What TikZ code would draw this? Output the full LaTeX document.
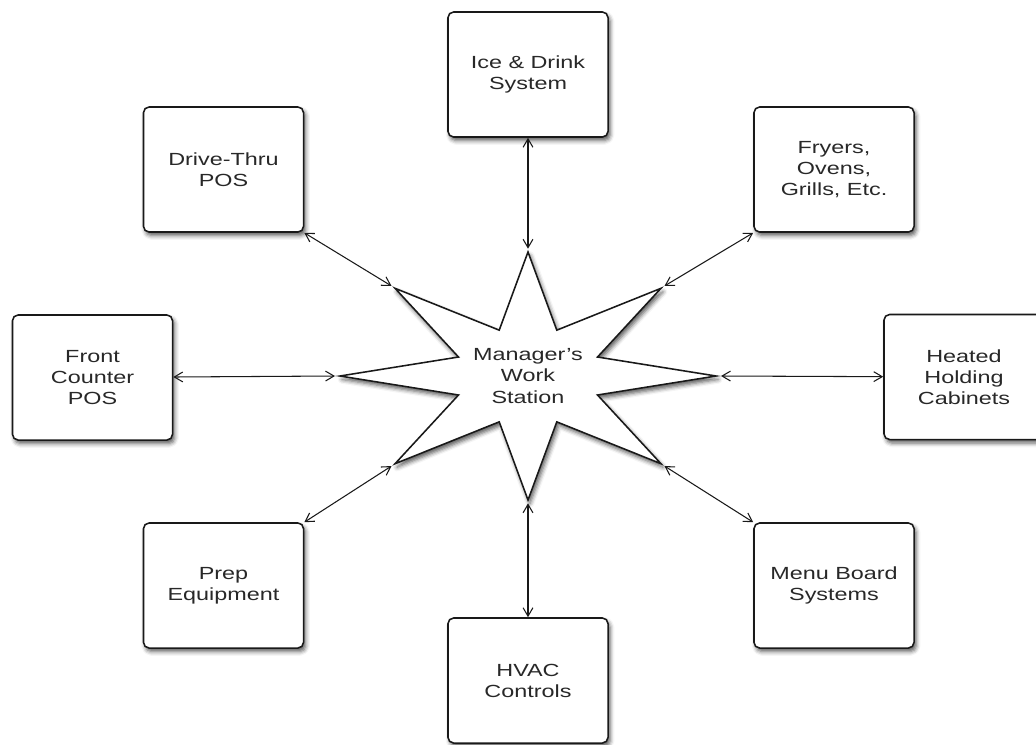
\documentclass[tikz,border=0pt]{standalone}
\usepackage{fontspec}
\setmainfont{Liberation Sans}[FakeStretch=1.33]
\usetikzlibrary{arrows.meta,shapes.geometric,shadows.blur}
\definecolor{inkline}{RGB}{25,25,25}
\definecolor{inktext}{RGB}{40,40,40}

\begin{document}
\begin{tikzpicture}[x=0.025cm,y=-0.025cm,
  unit/.style={rectangle,rounded corners=4pt,draw=inkline,line width=1.1pt,fill=white,
    text=inktext,font=\fontsize{12.5}{15}\selectfont,align=center,
    minimum width=4cm,minimum height=3.125cm,
    blur shadow={shadow xshift=1.5pt,shadow yshift=-2.5pt,shadow blur radius=3pt,shadow opacity=65}},
  link/.style={{Straight Barb[length=6pt,width=7pt]}-{Straight Barb[length=6pt,width=7pt]},
    line width=0.75pt,draw=inkline}]
\useasboundingbox (0,0) rectangle (1036,744);

% the work station in the middle
\node[star,star points=8,star point ratio=2.5,draw=inkline,line width=1.1pt,fill=white,
  minimum size=6.2cm,inner sep=0pt,xscale=1.516,transform shape,
  blur shadow={shadow xshift=1.5pt,shadow yshift=-2.5pt,shadow blur radius=3pt,shadow opacity=65}]
  (hub) at (528,376) {};
\node[text=inktext,font=\fontsize{12.5}{15}\selectfont,align=center] (hublabel) at (hub.center)
  {Manager's\\Work\\Station};

% equipment round it
\node[unit] (ice)    at (528,74.5)   {Ice \& Drink\\System};
\node[unit] (drive)  at (223.5,169.5) {Drive-Thru\\POS};
\node[unit] (fryers) at (834,169.5)  {Fryers,\\Ovens,\\Grills, Etc.};
\node[unit] (front)  at (92.5,377.5) {Front\\Counter\\POS};
\node[unit] (heated) at (964,377)    {Heated\\Holding\\Cabinets};
\node[unit] (prep)   at (223.5,585.5) {Prep\\Equipment};
\node[unit] (menu)   at (834,585.5)  {Menu Board\\Systems};
\node[unit] (hvac)   at (528,680.5)  {HVAC\\Controls};

% links
\draw[link] (ice) -- (hub.outer point 1);
\draw[link] (drive.south east) -- (hub.outer point 2);
\draw[link] (front) -- (hub.outer point 3);
\draw[link] (prep.north east) -- (hub.outer point 4);
\draw[link] (hvac) -- (hub.outer point 5);
\draw[link] (menu.north west) -- (hub.outer point 6);
\draw[link] (heated) -- (hub.outer point 7);
\draw[link] (fryers.south west) -- (hub.outer point 8);
\end{tikzpicture}
\end{document}
